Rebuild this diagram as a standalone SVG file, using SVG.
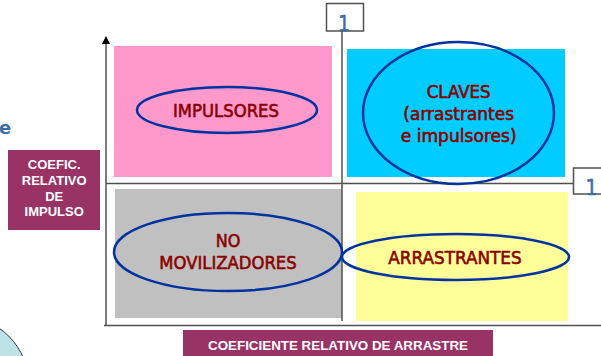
<svg xmlns="http://www.w3.org/2000/svg" width="601" height="356" viewBox="0 0 601 356">
<style>
.q{font-family:"DejaVu Sans Condensed","DejaVu Sans",sans-serif;font-size:18px;fill:#8B0000;stroke:#8B0000;stroke-width:0.55;text-anchor:middle}
.ov{fill:none;stroke:#0033A0;stroke-width:2.5}
.lab{font-family:"Liberation Sans",Arial,sans-serif;font-weight:bold;font-size:13px;fill:#FFFFFF;text-anchor:middle}
.one{font-family:"DejaVu Sans Condensed","DejaVu Sans",sans-serif;font-size:21px;fill:#3D6FA6;stroke:#3D6FA6;stroke-width:0.5;text-anchor:middle}
.ax{stroke:#505050;stroke-width:1.5;fill:none}
.box{fill:#FFFFFF;stroke:#505050;stroke-width:1.5}
</style>
<defs>
<marker id="arr" markerWidth="8" markerHeight="8" viewBox="0 0 8 8" refX="7" refY="4" orient="auto" markerUnits="userSpaceOnUse">
<path d="M0,0 L8,4 L0,8 Z" fill="#000"/>
</marker>
</defs>
<rect width="601" height="356" fill="#FFFFFF"/>
<g id="circle-deco">
<circle cx="-40" cy="385" r="69" fill="#BDE3E6" stroke="#333333" stroke-width="1"/>
</g>
<g id="e-text">
<text x="-1" y="133.5" font-family="'DejaVu Sans',sans-serif" font-weight="bold" font-size="18" fill="#3D6FA6">e</text>
</g>
<g id="q-impulsores">
<rect x="114" y="46" width="218" height="131" fill="#FF99CC"/>
</g>
<g id="q-claves">
<rect x="347" y="49" width="218" height="128" fill="#00CCFF"/>
</g>
<g id="q-no">
<rect x="115" y="189" width="227" height="129" fill="#C0C0C0"/>
</g>
<g id="q-arrastrantes">
<rect x="356" y="192" width="212" height="129" fill="#FFFF99"/>
</g>
<g id="connectors">
<line class="ax" x1="106" y1="325" x2="106" y2="37" marker-end="url(#arr)"/>
<line class="ax" x1="104" y1="325.5" x2="601" y2="325.5"/>
<line class="ax" x1="106" y1="183.5" x2="573" y2="183.5"/>
<line class="ax" x1="342" y1="31" x2="342" y2="321"/>
</g>
<g id="label-impulsores">
<ellipse class="ov" cx="227" cy="110" rx="90" ry="23"/>
<text class="q" x="226" y="117" textLength="106" lengthAdjust="spacingAndGlyphs">IMPULSORES</text>
</g>
<g id="label-claves">
<ellipse class="ov" cx="458.5" cy="113" rx="95.5" ry="71"/>
<text class="q" x="458.7" y="98.3" textLength="64" lengthAdjust="spacingAndGlyphs">CLAVES</text>
<text class="q" x="458.7" y="120.3" textLength="110.7" lengthAdjust="spacingAndGlyphs">(arrastrantes</text>
<text class="q" x="458.7" y="141.7" textLength="116" lengthAdjust="spacingAndGlyphs">e impulsores)</text>
</g>
<g id="label-no">
<ellipse class="ov" cx="228" cy="252" rx="114" ry="39"/>
<text class="q" x="228" y="247.3" textLength="24.7" lengthAdjust="spacingAndGlyphs">NO</text>
<text class="q" x="228" y="269.3" textLength="137.3" lengthAdjust="spacingAndGlyphs">MOVILIZADORES</text>
</g>
<g id="label-arrastrantes">
<ellipse class="ov" cx="455.5" cy="257" rx="113.5" ry="23"/>
<text class="q" x="455" y="264" textLength="133.3" lengthAdjust="spacingAndGlyphs">ARRASTRANTES</text>
</g>
<g id="box-1-top">
<rect class="box" x="326.5" y="3.5" width="37" height="27.5"/>
<text class="one" x="344" y="30.5">1</text>
</g>
<g id="box-1-right">
<rect class="box" x="573.5" y="168" width="30" height="26"/>
<text class="one" x="591.5" y="194.5">1</text>
</g>
<g id="y-label">
<rect x="8" y="150" width="92" height="80" fill="#993366"/>
<text class="lab" x="54.2" y="169.3">COEFIC.</text>
<text class="lab" x="54.2" y="185">RELATIVO</text>
<text class="lab" x="54.2" y="200.7">DE</text>
<text class="lab" x="54.2" y="216">IMPULSO</text>
</g>
<g id="x-label">
<rect x="183" y="330" width="310" height="30" fill="#993366"/>
<text class="lab" x="338" y="350" textLength="260" lengthAdjust="spacingAndGlyphs">COEFICIENTE RELATIVO DE ARRASTRE</text>
</g>
</svg>
